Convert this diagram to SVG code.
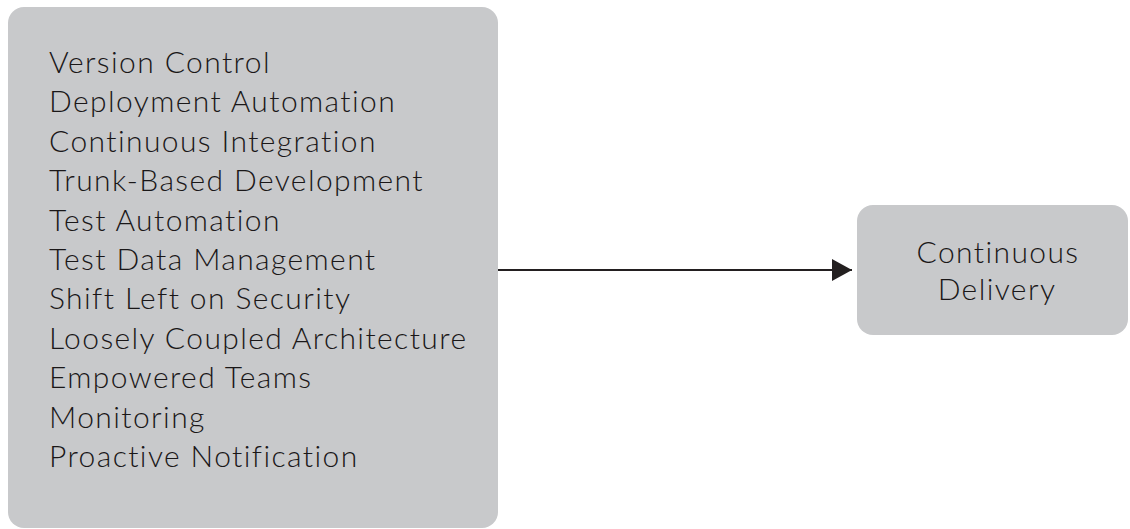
<svg xmlns="http://www.w3.org/2000/svg" width="1130" height="529" viewBox="0 0 1130 529">
<style>
.box{fill:#c8c9cb;}
.t{font-family:Lato,"Noto Sans",sans-serif;font-weight:300;font-size:30px;letter-spacing:1.4px;fill:#1a1718;}
.c{text-anchor:middle;}
.edge{stroke:#231f20;stroke-width:2;fill:none;}
</style>
<defs>
<marker id="arrow" viewBox="0 0 20 22" refX="20" refY="11" markerWidth="20" markerHeight="22" markerUnits="userSpaceOnUse" orient="auto">
<path d="M0,0 L20,11 L0,22 Z" fill="#231f20"/>
</marker>
</defs>
<rect width="1130" height="529" fill="#ffffff"/>
<g id="practices">
<rect class="box" x="8" y="7" width="490" height="521" rx="16"/>
<text class="t" x="49" y="73">Version Control</text>
<text class="t" x="49" y="112.4">Deployment Automation</text>
<text class="t" x="49" y="151.8">Continuous Integration</text>
<text class="t" x="49" y="191.2">Trunk-Based Development</text>
<text class="t" x="49" y="230.6">Test Automation</text>
<text class="t" x="49" y="270">Test Data Management</text>
<text class="t" x="49" y="309.4">Shift Left on Security</text>
<text class="t" x="49" y="348.8">Loosely Coupled Architecture</text>
<text class="t" x="49" y="388.2">Empowered Teams</text>
<text class="t" x="49" y="427.6">Monitoring</text>
<text class="t" x="49" y="467">Proactive Notification</text>
</g>
<g id="connectors">
<line class="edge" x1="498" y1="270" x2="852" y2="270" marker-end="url(#arrow)"/>
</g>
<g id="cd">
<rect class="box" x="857" y="205" width="271" height="130" rx="16"/>
<text class="t c" x="998" y="263">Continuous</text>
<text class="t c" x="997" y="300">Delivery</text>
</g>
</svg>
